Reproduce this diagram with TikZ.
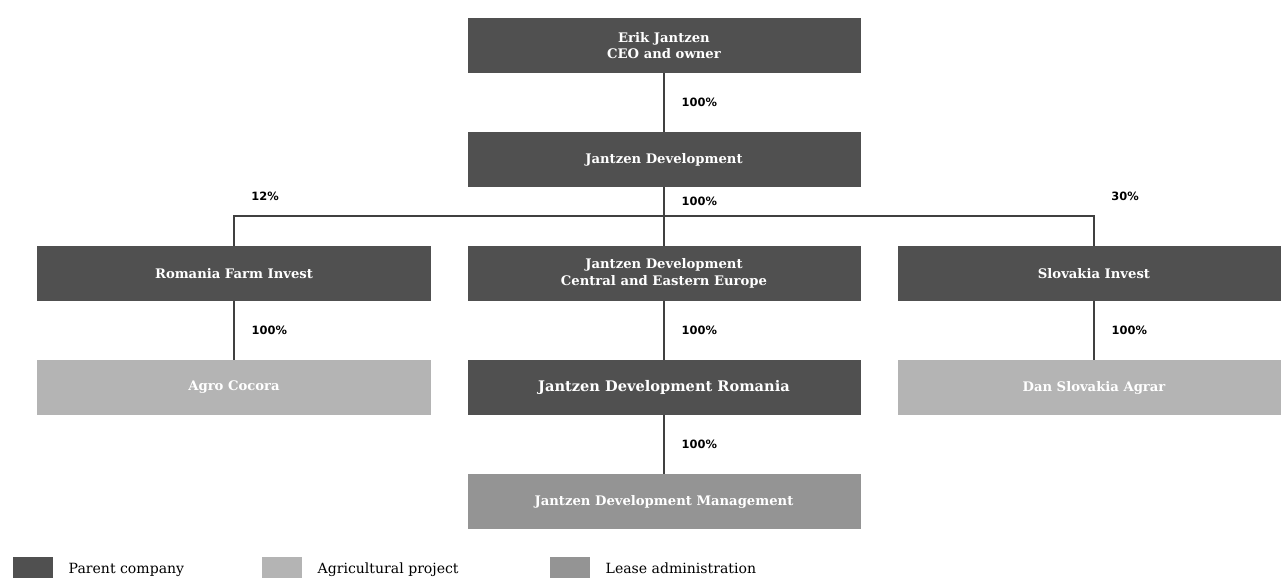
\documentclass[tikz,border=0pt]{standalone}
\usepackage{fontspec}
\setmainfont{DejaVu Serif}
\newfontfamily\pctfont{DejaVu Sans}
\usepackage{xcolor}
\usepackage{tikz}
\usetikzlibrary{positioning,calc}

\definecolor{parentgray}{RGB}{80,80,80}
\definecolor{agrogray}{RGB}{180,180,180}
\definecolor{leasegray}{RGB}{148,148,148}

\begin{document}
\begin{tikzpicture}[node distance=1.18cm and 0.74cm]
\tikzstyle{block} = [rectangle, fill=parentgray, text=white, minimum width=7.86cm, minimum height=1.1cm, inner sep=0pt, outer sep=0pt, align=center, font=\fontsize{7.5}{9.5}\selectfont\bfseries]
\tikzstyle{pct} = [inner sep=0pt, font=\pctfont\fontsize{6.5}{8}\selectfont\bfseries]
\tikzstyle{link} = [draw=black!75, line width=0.8pt]
\tikzstyle{key} = [rectangle, minimum width=0.8cm, minimum height=0.44cm, inner sep=0pt]
\tikzstyle{keytext} = [inner sep=0pt, text height=1.6ex, text depth=0.5ex, font=\fontsize{8}{10}\selectfont]

\useasboundingbox (0,0) rectangle (25.62,-11.54);

\node (ceo) [block] at (13.28,-0.91) {Erik Jantzen\\CEO and owner};
\node (jd) [block, below=of ceo] {Jantzen Development};
\node (cee) [block, below=of jd] {Jantzen Development\\Central and Eastern Europe};
\node (rfi) [block, left=of cee] {Romania Farm Invest};
\node (slov) [block, right=of cee] {Slovakia Invest};
\node (agro) [block, fill=agrogray, below=of rfi] {Agro Cocora};
\node (jdr) [block, below=of cee, font=\fontsize{8.3}{10}\selectfont\bfseries] {Jantzen Development Romania};
\node (dan) [block, fill=agrogray, below=of slov] {Dan Slovakia Agrar};
\node (jdm) [block, fill=leasegray, below=of jdr] {Jantzen Development Management};

\coordinate (split) at ($(jd.south)+(0,-0.58)$);

\draw [link] (ceo) -- node[pct, right=0.34cm] {100\%} (jd);
\draw [link] (jd) -- node[pct, right=0.34cm] {100\%} (split);
\draw [link] (split) -- (cee);
\draw [link] (rfi.north) |- (split) -| (slov.north);
\draw [link] (rfi) -- node[pct, right=0.34cm] {100\%} (agro);
\draw [link] (cee) -- node[pct, right=0.34cm] {100\%} (jdr);
\draw [link] (slov) -- node[pct, right=0.34cm] {100\%} (dan);
\draw [link] (jdr) -- node[pct, right=0.34cm] {100\%} (jdm);

\node (p12) [pct, above right=0.3cm and 0.34cm] at (rfi.north |- split) {12\%};
\node (p30) [pct, above right=0.3cm and 0.34cm] at (slov.north |- split) {30\%};

% legend
\node (kparent) [key, fill=parentgray] at (0.66,-11.36) {};
\node (tparent) [keytext, right=0.3cm of kparent] {Parent company};
\node (kagro) [key, fill=agrogray] at (5.64,-11.36) {};
\node (tagro) [keytext, right=0.3cm of kagro] {Agricultural project};
\node (klease) [key, fill=leasegray] at (11.4,-11.36) {};
\node (tlease) [keytext, right=0.3cm of klease] {Lease administration};

\end{tikzpicture}
\end{document}
